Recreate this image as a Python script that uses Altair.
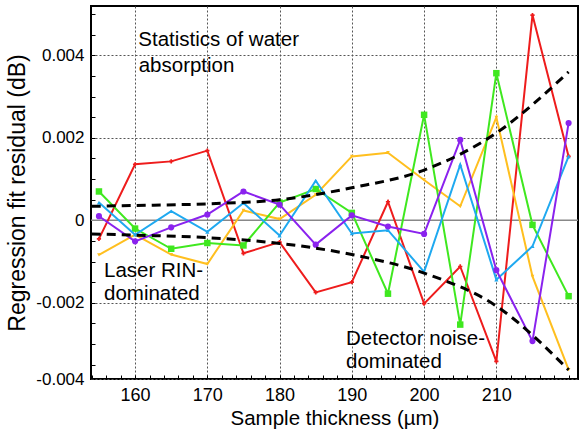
import altair as alt
import pandas as pd

# ---- data ----
x_vals = [155, 160, 165, 170, 175, 180, 185, 190, 195, 200, 205, 210, 215, 220]
red = [-0.00045, 0.00136, 0.00143, 0.00169, -0.00080, -0.00053, -0.00175, -0.00150,
       0.00045, -0.00202, -0.00112, -0.00342, 0.00498, 0.00155]
orange = [-0.00084, -0.00035, -0.00083, -0.00106, 0.00024, 0.00003, 0.00062, 0.00155,
          0.00164, 0.00098, 0.00034, 0.00250, -0.00136, -0.00362]
green = [0.00070, -0.00020, -0.00069, -0.00055, -0.00061, 0.00043, 0.00076, 0.00018,
         -0.00178, 0.00256, -0.00253, 0.00357, -0.00011, -0.00184]
blue = [0.00043, -0.00035, 0.00022, -0.00028, 0.00042, -0.00037, 0.00096, -0.00032,
        -0.00024, -0.00125, 0.00135, -0.00144, -0.00063, 0.00155]
purple = [0.00010, -0.00051, -0.00017, 0.00014, 0.00070, 0.00038, -0.00059, 0.00012,
          -0.00015, -0.00033, 0.00195, -0.00121, -0.00293, 0.00236]

env_x = [154, 160, 170, 180, 190, 200, 210, 220]
env_upper = [0.00034, 0.00036, 0.00040, 0.00050, 0.00079, 0.00122, 0.00212, 0.00360]
env_lower = [-0.00033, -0.00036, -0.00042, -0.00056, -0.00083, -0.00128, -0.00208, -0.00363]

x_ticks = [160, 170, 180, 190, 200, 210]
y_ticks = [-0.00385, -0.002, 0, 0.002, 0.004]
x_minor = list(range(154, 222, 2))
y_minor = [-0.0035, -0.003, -0.0025, -0.002, -0.0015, -0.001, -0.0005, 0.0,
           0.0005, 0.001, 0.0015, 0.002, 0.0025, 0.003, 0.0035, 0.004, 0.0045, 0.005]

notes_text = ["Statistics of water", "absorption", "Laser RIN-", "dominated",
              "Detector noise-", "dominated"]
notes_x = [160.45, 160.5, 155.7, 155.7, 189.2, 189.2]
notes_y = [0.00437, 0.00375, -0.00123, -0.00179, -0.00287, -0.00343]

series = ["red", "orange", "green", "blue", "purple"]
series_vals = [red, orange, green, blue, purple]
colors = ["#ee1c1c", "#ffbf1f", "#3fe81f", "#1fa9f0", "#8a22ee"]
shapes = ["cross", "triangle-down", "square", "triangle-up", "circle"]
sizes = [18, 14, 42, 18, 38]

rows = []
for name, vals in zip(series, series_vals):
    for x, y in zip(x_vals, vals):
        rows.append({"x": x, "y": y, "s": name})
df = pd.DataFrame(rows)

env_rows = []
for x, u, l in zip(env_x, env_upper, env_lower):
    env_rows.append({"x": x, "y": u, "c": "upper"})
    env_rows.append({"x": x, "y": l, "c": "lower"})
env_df = pd.DataFrame(env_rows)

notes_df = pd.DataFrame({"x": notes_x, "y": notes_y, "t": notes_text})
zero_df = pd.DataFrame({"y": [0.0]})

FONT = "Liberation Sans"

xs = alt.Scale(domain=[153.9, 221.3], nice=False, zero=False)
ys = alt.Scale(domain=[-0.00385, 0.0052], nice=False, zero=False)

x_axis = alt.Axis(values=x_ticks, title="Sample thickness (µm)", format="d",
                  grid=True, gridDash=[2, 2], gridColor="#555", gridWidth=1,
                  ticks=False, tickSize=0, domain=False,
                  labelFontSize=18, labelFont=FONT, labelColor="black", labelPadding=7,
                  titleFontSize=20.5, titleFont=FONT, titleColor="black",
                  titleFontWeight="normal", titlePadding=4)
y_axis = alt.Axis(values=y_ticks, title="Regression fit residual (dB)",
                  labelExpr="datum.value == 0 ? '0' : (datum.value < 0 ? '-' + format(-datum.value, '.3f') : format(datum.value, '.3f'))",
                  grid=True, gridDash=[2, 2], gridColor="#555", gridWidth=1,
                  ticks=False, tickSize=0, domain=False,
                  labelFontSize=17, labelFont=FONT, labelColor="black", labelPadding=7,
                  titleFontSize=23, titleFont=FONT, titleColor="black",
                  titleFontWeight="normal", titlePadding=6)

x_tick_axis = alt.Axis(values=x_minor, orient="bottom", offset=-4, tickSize=4,
                       tickColor="black", tickWidth=1, labels=False, domain=False,
                       grid=False, title=None)
y_tick_axis = alt.Axis(values=y_minor, orient="left", offset=-4, tickSize=4,
                       tickColor="black", tickWidth=1, labels=False, domain=False,
                       grid=False, title=None)

X_main = alt.X("x:Q", scale=xs, axis=x_axis)
Y_main = alt.Y("y:Q", scale=ys, axis=y_axis)
X = alt.X("x:Q", scale=xs, axis=None)
Y = alt.Y("y:Q", scale=ys, axis=None)

base_axes = alt.Chart(df).mark_point(opacity=0).encode(x=X_main, y=Y_main)
tick_axes = alt.Chart(df).mark_point(opacity=0).encode(
    x=alt.X("x:Q", scale=xs, axis=x_tick_axis),
    y=alt.Y("y:Q", scale=ys, axis=y_tick_axis))

zero = alt.Chart(zero_df).mark_rule(color="#888", strokeWidth=1.5).encode(y=Y)

layers = [base_axes, tick_axes, zero]
for name, col, shp, sz in zip(series, colors, shapes, sizes):
    sub = df[df["s"] == name]
    line = alt.Chart(sub).mark_line(color=col, strokeWidth=2).encode(x=X, y=Y)
    pts = alt.Chart(sub).mark_point(color=col, shape=shp, size=sz, filled=True,
                                    opacity=1).encode(x=X, y=Y)
    layers += [line, pts]

env = alt.Chart(env_df).mark_line(color="black", strokeWidth=3, strokeDash=[9, 6],
                                  interpolate="monotone").encode(x=X, y=Y, detail="c:N")
notes = alt.Chart(notes_df).mark_text(align="left", baseline="middle", fontSize=20.5,
                                      font=FONT, color="black").encode(x=X, y=Y, text="t:N")
layers += [env, notes]

chart = alt.layer(*layers).resolve_axis(x="independent", y="independent").properties(
    width=487, height=373,
    autosize=alt.AutoSizeParams(type="none"),
    padding={"left": 91, "top": 6, "right": 2, "bottom": 54},
).configure_view(stroke="black", strokeWidth=2)

chart.save("out.html", embed_options={"renderer": "svg", "actions": False})
